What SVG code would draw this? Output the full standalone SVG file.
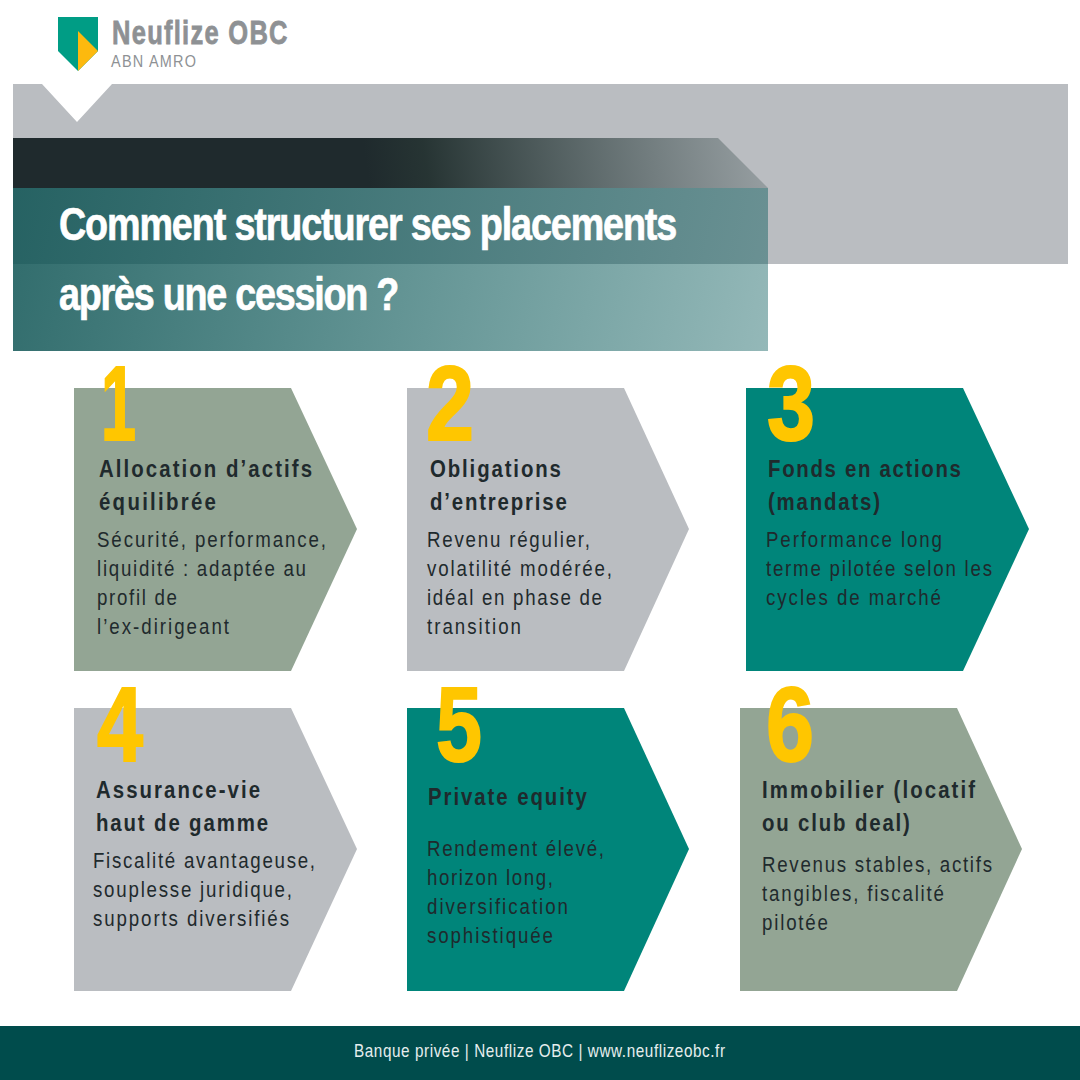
<svg xmlns="http://www.w3.org/2000/svg" width="1080" height="1080" viewBox="0 0 1080 1080">
<style>
text{font-family:"Liberation Sans",Arial,sans-serif}
.num{font-weight:700;font-size:106px;fill:#ffc600;stroke:#ffc600;stroke-width:2}
.h{font-weight:700;font-size:24px;fill:#1f2a2d}
.b{font-size:22px;fill:#1f2a2d}
.t{font-weight:700;font-size:46px;fill:#fff;stroke:#fff;stroke-width:.7}
.sage{fill:#93a594}.grey{fill:#babdc1}.teal{fill:#00857a}
</style>
<defs>
<linearGradient id="dark" gradientUnits="userSpaceOnUse" x1="370" y1="190" x2="760" y2="130">
<stop offset="0" stop-color="#1f2a2d"/><stop offset="0.15" stop-color="#22302f" stop-opacity=".97"/><stop offset="1" stop-color="#2a4040" stop-opacity="0.25"/>
</linearGradient>
<linearGradient id="over" gradientUnits="userSpaceOnUse" x1="13" y1="188" x2="768" y2="351">
<stop offset="0" stop-color="#0c5252" stop-opacity="0.85"/><stop offset="1" stop-color="#005656" stop-opacity="0.42"/>
</linearGradient>
</defs>
<rect width="1080" height="1080" fill="#fff"/>
<g id="logo">
<path d="M58 17H98V51L78 71 58 51Z" fill="#009d85"/>
<path d="M78 31L98 51 78 71Z" fill="#fdb90e"/>
<text transform="translate(112 44) scale(.75 1)" font-size="34" font-weight="700" fill="#8e9194" stroke="#8e9194" stroke-width=".8" textLength="234" lengthAdjust="spacing">Neuflize OBC</text>
<text transform="translate(111 67) scale(.85 1)" font-size="17" fill="#8e9194" textLength="100" lengthAdjust="spacing">ABN AMRO</text>
</g>
<g id="banner">
<path d="M13 84H42L77 122 112 84H1068V264H13Z" fill="#babdc1"/>
<path d="M13 138H718L768 188H13Z" fill="url(#dark)"/>
<rect x="13" y="188" width="755" height="163" fill="url(#over)"/>
<text class="t" transform="translate(59 240) scale(.82 1)" textLength="754" lengthAdjust="spacing">Comment structurer ses placements</text>
<text class="t" transform="translate(59 310) scale(.82 1)" textLength="415" lengthAdjust="spacing">après une cession ?</text>
</g>
<g id="node1">
<path class="sage" d="M74 388H291L357 529 291 671H74Z"/>
<text class="num" x="101" y="440" textLength="35" lengthAdjust="spacingAndGlyphs">1</text>
<text class="h" transform="translate(99 477) scale(.85 1)" textLength="250.6" lengthAdjust="spacing">Allocation d’actifs</text>
<text class="h" transform="translate(99 510) scale(.85 1)" textLength="137.6" lengthAdjust="spacing">équilibrée</text>
<text class="b" transform="translate(97 547) scale(.85 1)" textLength="269.4" lengthAdjust="spacing">Sécurité, performance,</text>
<text class="b" transform="translate(97 576) scale(.85 1)" textLength="245.9" lengthAdjust="spacing">liquidité : adaptée au</text>
<text class="b" transform="translate(97 605) scale(.85 1)" textLength="94" lengthAdjust="spacing">profil de</text>
<text class="b" transform="translate(97 634) scale(.85 1)" textLength="155.3" lengthAdjust="spacing">l’ex-dirigeant</text>
</g>
<g id="node2">
<path class="grey" d="M407 388H624L689 529 624 671H407Z"/>
<text class="num" x="426" y="440" textLength="48" lengthAdjust="spacingAndGlyphs">2</text>
<text class="h" transform="translate(430 477) scale(.85 1)" textLength="154" lengthAdjust="spacing">Obligations</text>
<text class="h" transform="translate(430 510) scale(.85 1)" textLength="161" lengthAdjust="spacing">d’entreprise</text>
<text class="b" transform="translate(427 547) scale(.85 1)" textLength="191.8" lengthAdjust="spacing">Revenu régulier,</text>
<text class="b" transform="translate(427 576) scale(.85 1)" textLength="217.6" lengthAdjust="spacing">volatilité modérée,</text>
<text class="b" transform="translate(427 605) scale(.85 1)" textLength="205.9" lengthAdjust="spacing">idéal en phase de</text>
<text class="b" transform="translate(427 634) scale(.85 1)" textLength="110.6" lengthAdjust="spacing">transition</text>
</g>
<g id="node3">
<path class="teal" d="M746 388H963L1029 529 963 671H746Z"/>
<text class="num" x="767" y="440" textLength="48" lengthAdjust="spacingAndGlyphs">3</text>
<text class="h" transform="translate(768 477) scale(.85 1)" textLength="227" lengthAdjust="spacing">Fonds en actions</text>
<text class="h" transform="translate(768 510) scale(.85 1)" textLength="131.8" lengthAdjust="spacing">(mandats)</text>
<text class="b" transform="translate(766 547) scale(.85 1)" textLength="207" lengthAdjust="spacing">Performance long</text>
<text class="b" transform="translate(766 576) scale(.85 1)" textLength="265.9" lengthAdjust="spacing">terme pilotée selon les</text>
<text class="b" transform="translate(766 605) scale(.85 1)" textLength="205.9" lengthAdjust="spacing">cycles de marché</text>
</g>
<g id="node4">
<path class="grey" d="M74 708H291L357 849 291 991H74Z"/>
<text class="num" x="97" y="761" textLength="46" lengthAdjust="spacingAndGlyphs">4</text>
<text class="h" transform="translate(96 798) scale(.85 1)" textLength="193" lengthAdjust="spacing">Assurance-vie</text>
<text class="h" transform="translate(96 831) scale(.85 1)" textLength="202.4" lengthAdjust="spacing">haut de gamme</text>
<text class="b" transform="translate(93 868) scale(.85 1)" textLength="261.2" lengthAdjust="spacing">Fiscalité avantageuse,</text>
<text class="b" transform="translate(93 897) scale(.85 1)" textLength="234.1" lengthAdjust="spacing">souplesse juridique,</text>
<text class="b" transform="translate(93 926) scale(.85 1)" textLength="230.6" lengthAdjust="spacing">supports diversifiés</text>
</g>
<g id="node5">
<path class="teal" d="M407 708H624L689 849 624 991H407Z"/>
<text class="num" x="436" y="761" textLength="46" lengthAdjust="spacingAndGlyphs">5</text>
<text class="h" transform="translate(428 805) scale(.85 1)" textLength="187" lengthAdjust="spacing">Private equity</text>
<text class="b" transform="translate(427 856) scale(.85 1)" textLength="208.2" lengthAdjust="spacing">Rendement élevé,</text>
<text class="b" transform="translate(427 885) scale(.85 1)" textLength="148.2" lengthAdjust="spacing">horizon long,</text>
<text class="b" transform="translate(427 914) scale(.85 1)" textLength="165.9" lengthAdjust="spacing">diversification</text>
<text class="b" transform="translate(427 943) scale(.85 1)" textLength="148.2" lengthAdjust="spacing">sophistiquée</text>
</g>
<g id="node6">
<path class="sage" d="M740 708H957L1022 849 957 991H740Z"/>
<text class="num" x="766" y="761" textLength="48" lengthAdjust="spacingAndGlyphs">6</text>
<text class="h" transform="translate(762 798) scale(.85 1)" textLength="250.6" lengthAdjust="spacing">Immobilier (locatif</text>
<text class="h" transform="translate(762 831) scale(.85 1)" textLength="174" lengthAdjust="spacing">ou club deal)</text>
<text class="b" transform="translate(762 872) scale(.85 1)" textLength="270.6" lengthAdjust="spacing">Revenus stables, actifs</text>
<text class="b" transform="translate(762 901) scale(.85 1)" textLength="214.1" lengthAdjust="spacing">tangibles, fiscalité</text>
<text class="b" transform="translate(762 930) scale(.85 1)" textLength="77.6" lengthAdjust="spacing">pilotée</text>
</g>
<g id="footer">
<rect y="1026" width="1080" height="54" fill="#004c4c"/>
<text transform="translate(354 1057) scale(.85 1)" font-size="18" fill="#e6eeee" textLength="436.5" lengthAdjust="spacing">Banque privée | Neuflize OBC | www.neuflizeobc.fr</text>
</g>
<g id="connectors"/>
</svg>
